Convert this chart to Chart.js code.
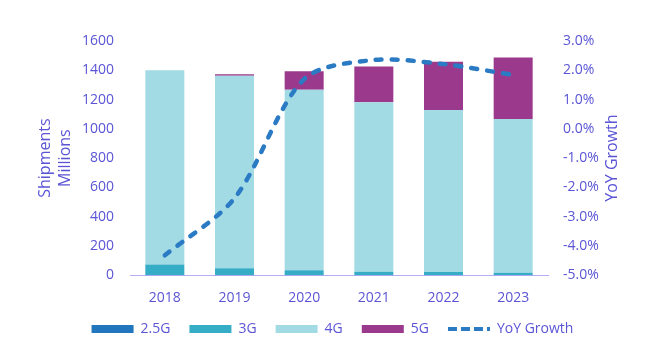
<!DOCTYPE html>
<html><head><meta charset="utf-8">
<script src="https://cdn.jsdelivr.net/npm/chart.js@4/dist/chart.umd.min.js"></script>
<style>html,body{margin:0;padding:0;background:#fff}#wrap{width:662px;height:350px}</style>
</head><body><div id="wrap"><canvas id="c" width="662" height="350"></canvas></div>
<script>
const categories = ['2018','2019','2020','2021','2022','2023'];
const g25 = [2, 2, 2, 2, 2, 2];
const g3 = [71, 46, 32, 21, 20, 14];
const g4 = [1327, 1315, 1233, 1158, 1106, 1051];
const g5 = [0, 10, 126, 245, 331, 421];
const yoy = [-4.32, -2.37, 1.7, 2.35, 2.21, 1.84];
const leftTicks = [0, 1600, 200];
const rightTicks = [-5, 3, 1];

const txt = '#5b55d5';
const fam = "'Open Sans', sans-serif";
const font = {family: fam, size: 14};
Chart.defaults.color = txt;
Chart.defaults.font = font;

const rightTitle = {
  id: 'rightTitle',
  afterDraw(chart) {
    const ctx = chart.ctx, a = chart.chartArea;
    ctx.save();
    ctx.translate(612, (a.top + a.bottom) / 2);
    ctx.rotate(-Math.PI / 2);
    ctx.fillStyle = txt;
    ctx.font = '16px ' + fam;
    ctx.textAlign = 'center';
    ctx.textBaseline = 'middle';
    ctx.fillText('YoY Growth', 0, 0);
    ctx.restore();
  }
};

new Chart(document.getElementById('c'), {
  type: 'bar',
  data: {
    labels: categories,
    datasets: [
      {label: '2.5G', data: g25, backgroundColor: '#2176bd', stack: 's', order: 1},
      {label: '3G', data: g3, backgroundColor: '#36adc6', stack: 's', order: 1},
      {label: '4G', data: g4, backgroundColor: '#a3dbe5', stack: 's', order: 1},
      {label: '5G', data: g5, backgroundColor: '#9b3a8d', stack: 's', order: 1},
      {label: 'YoY Growth', type: 'line', data: yoy, yAxisID: 'y1', borderColor: '#2a7bc4',
       backgroundColor: '#2a7bc4', borderWidth: 4.5, borderDash: [6, 10], borderCapStyle: 'round',
       pointRadius: 0, tension: 0.3, order: 0}
    ]
  },
  plugins: [rightTitle],
  options: {
    responsive: false,
    animation: false,
    layout: {padding: {left: 3, right: 0, top: 41, bottom: 4}},
    datasets: {bar: {barPercentage: 0.56, categoryPercentage: 1}},
    plugins: {
      tooltip: {enabled: false},
      legend: {
        position: 'bottom',
        labels: {
          usePointStyle: true, pointStyleWidth: 42, boxHeight: 8, padding: 19,
          color: txt, font: font,
          generateLabels(chart) {
            return chart.data.datasets.map((ds, i) => ({
              text: ds.label,
              fillStyle: ds.backgroundColor,
              strokeStyle: ds.borderColor || ds.backgroundColor,
              lineWidth: ds.type === 'line' ? 4 : 0,
              lineDash: ds.type === 'line' ? [9, 4] : [],
              pointStyle: ds.type === 'line' ? 'line' : 'rect',
              fontColor: txt,
              hidden: false,
              datasetIndex: i
            }));
          }
        }
      }
    },
    scales: {
      x: {
        stacked: true,
        grid: {display: false, drawTicks: false},
        border: {display: true, color: '#b5aef5', width: 1},
        ticks: {color: txt, font: font, padding: 14},
        afterFit(s) { s.height -= 17; }
      },
      y: {
        stacked: true,
        position: 'left',
        min: leftTicks[0], max: leftTicks[1],
        grid: {display: false, drawTicks: false},
        border: {display: false},
        ticks: {stepSize: leftTicks[2], color: txt, font: font, padding: 16, callback: v => String(v)},
        title: {display: true, text: ['Shipments', 'Millions'], color: txt,
                font: {family: fam, size: 16, lineHeight: 1.25}, padding: {top: 32, bottom: 0}},
        afterFit(s) { s.width = 127; }
      },
      y1: {
        position: 'right',
        min: rightTicks[0], max: rightTicks[1],
        grid: {display: false, drawTicks: false},
        border: {display: false},
        ticks: {stepSize: rightTicks[2], color: txt, font: font, padding: 15,
                callback: v => v.toFixed(1) + '%'},
        afterFit(s) { s.width = 114; }
      }
    }
  }
});
</script></body></html>
